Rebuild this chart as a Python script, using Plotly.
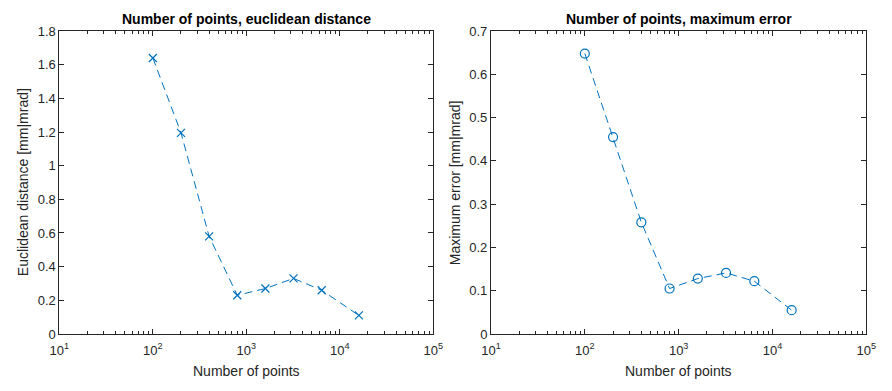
import plotly.graph_objects as go

n_points = [100, 200, 400, 800, 1600, 3200, 6400, 16000]
euclid = [1.64, 1.195, 0.58, 0.23, 0.27, 0.33, 0.26, 0.11]
max_err = [0.648, 0.455, 0.258, 0.105, 0.128, 0.141, 0.122, 0.055]

x_tickvals = [10, 100, 1000, 10000, 100000]
x_ticktext = ["10<sup>1</sup>", "10<sup>2</sup>", "10<sup>3</sup>", "10<sup>4</sup>", "10<sup>5</sup>"]
y1_ticks = [0, 0.2, 0.4, 0.6, 0.8, 1.0, 1.2, 1.4, 1.6, 1.8]
y2_ticks = [0, 0.1, 0.2, 0.3, 0.4, 0.5, 0.6, 0.7]

W, H = 892, 391
blue = "#0072BD"
axc = "#262626"
font = "Liberation Sans"

fig = go.Figure()
fig.add_trace(go.Scatter(x=n_points, y=euclid, mode="lines+markers",
                         line=dict(color=blue, width=1, dash="8px,5px"),
                         marker=dict(symbol="x-thin-open", size=8, line=dict(color=blue, width=1.2)),
                         xaxis="x", yaxis="y", showlegend=False))
fig.add_trace(go.Scatter(x=n_points, y=max_err, mode="lines+markers",
                         line=dict(color=blue, width=1, dash="8px,5px"),
                         marker=dict(symbol="circle-open", size=9, color=blue, line=dict(color=blue, width=1.2)),
                         xaxis="x2", yaxis="y2", showlegend=False))

ydom = [1 - 340 / H, 1 - 25 / H]
xd1 = [50.5 / W, 433 / W]
xd2 = [492 / W, 876 / W]

def xaxis(dom, anchor):
    return dict(domain=dom, anchor=anchor, type="log", range=[1, 5],
                tickmode="array", tickvals=x_tickvals, ticktext=x_ticktext,
                ticks="inside", ticklen=5, tickcolor=axc, tickwidth=1,
                ticklabelstandoff=4,
                showline=True, linecolor=axc, linewidth=1, mirror="ticks",
                showgrid=False, zeroline=False,
                minor=dict(dtick="D1", ticks="inside", ticklen=2.5, tickcolor=axc, showgrid=False),
                tickfont=dict(family=font, size=13, color=axc))

def yaxis(dom, anchor, rng, tv):
    return dict(domain=dom, anchor=anchor, range=rng, tickmode="array", tickvals=tv,
                ticks="inside", ticklen=5, tickcolor=axc, tickwidth=1,
                showline=True, linecolor=axc, linewidth=1, mirror="ticks",
                showgrid=False, zeroline=False,
                tickfont=dict(family=font, size=13, color=axc))

fig.update_layout(
    width=W, height=H, margin=dict(l=0, r=0, t=0, b=0),
    paper_bgcolor="white", plot_bgcolor="white",
    font=dict(family=font, size=13, color=axc),
    xaxis=xaxis(xd1, "y"), yaxis=yaxis(ydom, "x", [0, 1.8], y1_ticks),
    xaxis2=xaxis(xd2, "y2"), yaxis2=yaxis(ydom, "x2", [0, 0.7], y2_ticks),
)

ann = []
def add(text, x, y, bold=False, angle=0, size=14):
    ann.append(dict(text=("<b>%s</b>" % text) if bold else text, x=x / W, y=1 - y / H,
                    xref="paper", yref="paper", showarrow=False, textangle=angle,
                    xanchor="center", yanchor="middle",
                    font=dict(family=font, size=size, color="black" if bold else axc)))

add("Number of points, euclidean distance", (50.5 + 433) / 2, 12, bold=True)
add("Number of points, maximum error", (492 + 876) / 2, 12, bold=True)
add("Number of points", (50.5 + 433) / 2, 379)
add("Number of points", (492 + 876) / 2, 379)
add("Euclidean distance [mm|mrad]", 14, (25 + 340) / 2, angle=-90)
add("Maximum error [mm|mrad]", 456, (25 + 340) / 2, angle=-90)
fig.update_layout(annotations=ann)

fig.write_html("out.html")
